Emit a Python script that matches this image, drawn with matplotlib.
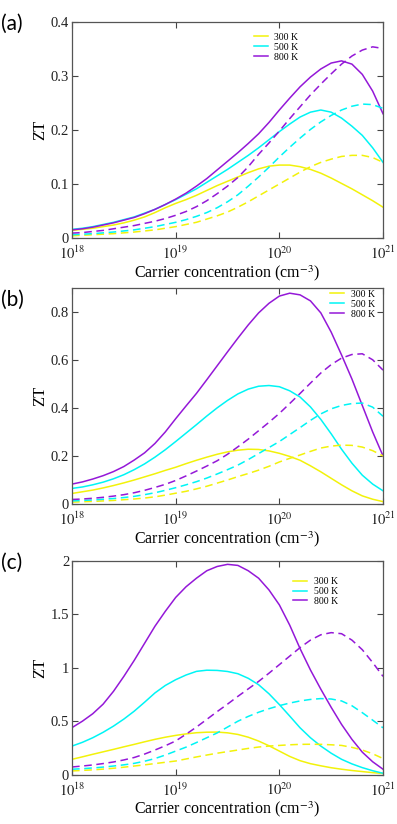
import numpy as np
import matplotlib
matplotlib.use("Agg")
import matplotlib.pyplot as plt

plt.rcParams["font.family"] = ["Liberation Serif", "DejaVu Serif"]
plt.rcParams["mathtext.fontset"] = "stix"

# carrier concentration, log10(n / cm^-3)
log_n = [18.0, 18.1, 18.2, 18.3, 18.4, 18.5, 18.6, 18.7, 18.8, 18.9,
         19.0, 19.1, 19.2, 19.3, 19.4, 19.5, 19.6, 19.7, 19.8, 19.9,
         20.0, 20.1, 20.2, 20.3, 20.4, 20.5, 20.6, 20.7, 20.8, 20.9, 21.0]

temps = ["300 K", "500 K", "800 K"]
colors = ["#f2f20a", "#00f5f5", "#9418d8"]

# (a) solid / dashed, order 300 K, 500 K, 800 K
a_solid = [
    [.014, .016, .018, .021, .024, .028, .033, .039, .047, .056, .064, .071, .079, .088, .097, .105,
     .113, .121, .128, .133, .135, .135, .132, .127, .120, .111, .101, .091, .080, .069, .057],
    [.016, .018, .021, .025, .029, .034, .039, .046, .053, .062, .071, .081, .091, .103, .115, .127,
     .140, .153, .167, .182, .197, .211, .224, .233, .237, .233, .222, .207, .190, .167, .140],
    [.015, .017, .020, .024, .028, .033, .038, .045, .053, .062, .072, .083, .096, .110, .126, .142,
     .158, .175, .193, .214, .237, .259, .280, .298, .313, .324, .328, .322, .303, .272, .230],
]
a_dash = [
    [.004, .005, .006, .007, .008, .0095, .011, .013, .015, .018, .021, .025, .029, .035, .041, .048,
     .057, .067, .078, .089, .100, .111, .122, .132, .140, .146, .151, .153, .153, .149, .140],
    [.006, .007, .008, .0095, .011, .013, .015, .018, .021, .025, .029, .034, .040, .047, .056, .067,
     .080, .096, .113, .131, .150, .168, .185, .201, .215, .227, .237, .244, .248, .247, .240],
    [.009, .010, .012, .014, .017, .020, .023, .027, .031, .036, .042, .049, .058, .069, .082, .096,
     .112, .132, .155, .176, .198, .221, .243, .265, .285, .304, .322, .337, .348, .354, .351],
]

# (b)
b_solid = [
    [.044, .051, .058, .067, .077, .088, .100, .113, .126, .140, .153, .168, .182, .195, .207, .217,
     .224, .228, .227, .221, .211, .198, .182, .159, .134, .107, .080, .055, .034, .020, .010],
    [.065, .071, .080, .091, .105, .122, .143, .167, .195, .226, .260, .295, .330, .366, .400, .431,
     .458, .478, .490, .493, .488, .471, .445, .404, .352, .292, .228, .170, .120, .083, .055],
    [.083, .092, .104, .118, .135, .156, .183, .213, .252, .300, .355, .408, .460, .517, .575, .633,
     .690, .745, .795, .835, .865, .877, .870, .845, .795, .715, .620, .520, .410, .300, .200],
]
b_dash = [
    [.008, .0095, .011, .013, .015, .018, .021, .025, .030, .037, .045, .053, .063, .074, .087, .100,
     .114, .127, .141, .157, .175, .190, .204, .219, .233, .241, .245, .244, .237, .222, .200],
    [.013, .015, .017, .020, .023, .027, .032, .039, .047, .057, .068, .080, .093, .108, .125, .143,
     .162, .185, .210, .235, .260, .289, .318, .348, .375, .396, .410, .418, .420, .403, .365],
    [.019, .021, .024, .028, .033, .039, .047, .057, .069, .082, .098, .117, .137, .158, .180, .207,
     .238, .270, .305, .340, .377, .418, .460, .503, .545, .580, .607, .622, .625, .600, .557],
]

# (c)
c_solid = [
    [.143, .166, .190, .213, .236, .260, .283, .307, .330, .350, .367, .381, .392, .397, .398, .391,
     .376, .350, .314, .270, .220, .170, .130, .102, .082, .064, .050, .038, .028, .018, .010],
    [.267, .302, .345, .396, .454, .520, .594, .678, .765, .835, .889, .933, .967, .978, .976, .966,
     .945, .902, .842, .757, .656, .548, .438, .345, .267, .200, .143, .100, .065, .036, .012],
    [.44, .50, .57, .66, .78, .92, 1.07, 1.23, 1.39, 1.53, 1.66, 1.76, 1.84, 1.91, 1.95, 1.97,
     1.96, 1.91, 1.84, 1.73, 1.59, 1.40, 1.18, .98, .80, .63, .47, .33, .21, .12, .05],
]
c_dash = [
    [.034, .039, .044, .051, .059, .069, .080, .091, .103, .115, .127, .146, .165, .183, .200, .215,
     .230, .245, .258, .267, .273, .279, .283, .284, .283, .279, .273, .255, .230, .195, .150],
    [.050, .055, .062, .070, .080, .091, .105, .125, .150, .183, .220, .257, .300, .345, .390, .445,
     .500, .545, .584, .617, .646, .670, .690, .704, .712, .708, .690, .645, .580, .510, .438],
    [.071, .080, .090, .103, .118, .137, .160, .192, .230, .270, .315, .378, .445, .517, .590, .660,
     .733, .803, .873, .950, 1.03, 1.11, 1.19, 1.26, 1.31, 1.33, 1.32, 1.26, 1.17, 1.05, .92],
]

panels = [
    ("(a)", a_solid, a_dash, 0.4, [0, 0.1, 0.2, 0.3, 0.4], ["0", "0.1", "0.2", "0.3", "0.4"]),
    ("(b)", b_solid, b_dash, 0.9, [0, 0.2, 0.4, 0.6, 0.8], ["0", "0.2", "0.4", "0.6", "0.8"]),
    ("(c)", c_solid, c_dash, 2.0, [0, 0.5, 1, 1.5, 2], ["0", "0.5", "1", "1.5", "2"]),
]
# axes boxes [left, bottom, width, height] in figure fractions
boxes = [[0.1814, 0.7112, 0.7834, 0.2621],
         [0.1814, 0.3883, 0.7834, 0.2626],
         [0.1814, 0.0600, 0.7834, 0.2590]]
legend_pos = [(0.585, 0.95), (0.83, 0.99), (0.711, 0.926)]
tag_y = [0.983, 0.648, 0.329]

conc = 10.0 ** np.array(log_n)
fig = plt.figure(figsize=(3.97, 8.24), dpi=100)

for (tag, solid, dash, ymax, yt, ytl), box, lp, ty in zip(panels, boxes, legend_pos, tag_y):
    ax = fig.add_axes(box)
    for s, c, t in zip(solid, colors, temps):
        ax.plot(conc, s, color=c, lw=1.1, label=t)
    for s, c in zip(dash, colors):
        ax.plot(conc, s, color=c, lw=1.1, dashes=(5, 3))
    ax.set_xscale("log")
    ax.set_xlim(1e18, 1e21)
    ax.set_ylim(0, ymax)
    ax.set_xticks([1e18, 1e19, 1e20, 1e21])
    ax.set_xticklabels([r"$10^{18}$", r"$10^{19}$", r"$10^{20}$", r"$10^{21}$"])
    ax.minorticks_off()
    ax.set_yticks(yt)
    ax.set_yticklabels(ytl)
    ax.tick_params(direction="in", top=True, right=True, length=4, width=0.8,
                   labelsize=10.5, color="#444444", labelcolor="#222222", pad=2)
    ax.tick_params(axis="x", pad=5)
    for sp in ax.spines.values():
        sp.set_color("#555555")
        sp.set_linewidth(0.9)
    ax.set_xlabel("Carrier concentration (cm$^{-3}$)", fontsize=11.5, labelpad=0.5)
    ax.set_ylabel("ZT", fontsize=12, labelpad=2)
    ax.legend(loc="upper left", bbox_to_anchor=lp, frameon=False, fontsize=7,
              handlelength=1.4, handletextpad=0.7, labelspacing=0.1,
              borderpad=0, borderaxespad=0)
    fig.text(0.003, ty, tag, fontsize=15, family=["Lato", "DejaVu Sans"], va="top", ha="left")

fig.savefig("out.png", dpi=100)
